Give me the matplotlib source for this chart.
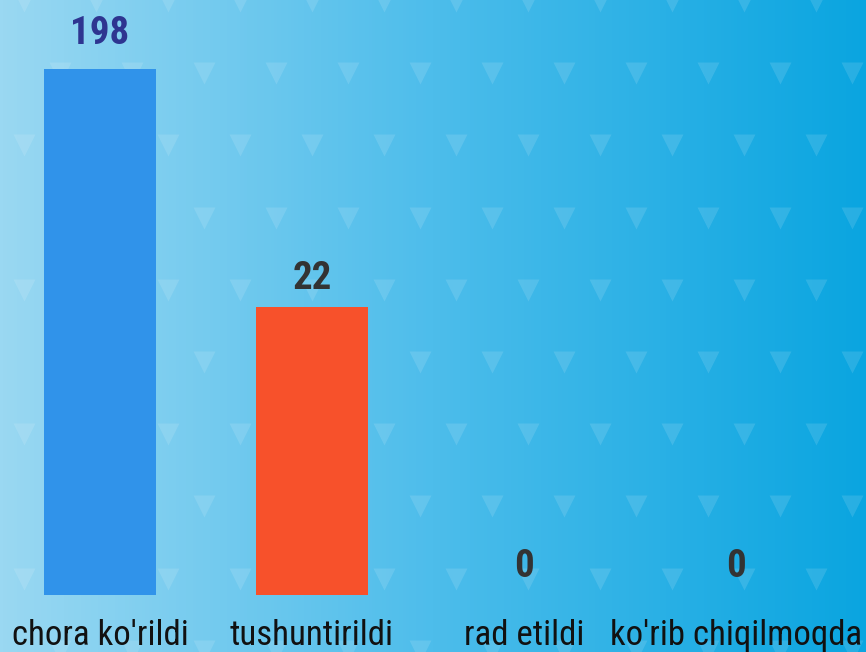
import matplotlib
matplotlib.use("Agg")
import matplotlib.pyplot as plt
import numpy as np
from matplotlib.colors import LinearSegmentedColormap

categories = ["chora ko'rildi", "tushuntirildi", "rad etildi", "ko'rib chiqilmoqda"]
values = [198, 22, 0, 0]
bar_colors = ["#3093EA", "#F7512B", "#3093EA", "#F7512B"]
label_colors = ["#2E3590", "#333333", "#333333", "#333333"]

plt.rcParams['font.family'] = ['Roboto Condensed', 'DejaVu Sans Condensed',
                               'Liberation Sans Narrow', 'Roboto', 'DejaVu Sans']
plt.rcParams['font.stretch'] = 'condensed'

fig = plt.figure(figsize=(8.66, 6.52), dpi=100)

# background: horizontal gradient + faint triangle pattern
bg = fig.add_axes([0, 0, 1, 1], zorder=0)
grad = LinearSegmentedColormap.from_list("bg", ["#9AD8F2", "#4DBDEB", "#0AA5E0"])
bg.imshow(np.linspace(0, 1, 256)[None, :], cmap=grad, aspect='auto',
          extent=[0, 866, 652, 0])
for k in range(10):
    y = 1 + 72.2 * k
    x0 = 24 if k % 2 == 0 else 60
    xs = np.arange(x0, 880, 72)
    bg.scatter(xs, np.full(len(xs), y), marker='v', s=250, color='white',
               alpha=0.12, linewidths=0)
bg.set_xlim(0, 866)
bg.set_ylim(652, 0)
bg.axis('off')

# bars (compressed value scale, like the original)
ax = fig.add_axes([0, 57 / 652, 1, 595 / 652], zorder=1)
ax.patch.set_alpha(0)
ax.set_yscale('function', functions=(lambda v: np.power(np.clip(v, 0, None), 0.274),
                                     lambda v: np.power(np.clip(v, 0, None), 1 / 0.274)))
x = np.arange(len(categories))
ax.bar(x, values, width=0.53, color=bar_colors)
ax.set_xlim(-100 / 212, -100 / 212 + 866 / 212)
ax.set_ylim(0, 310.6)

for xi, v, c in zip(x, values, label_colors):
    off = 12 if v > 100 else 7
    ax.annotate(str(v), (xi, v), xytext=(0, off), textcoords='offset points',
                ha='center', va='bottom', fontsize=28, fontweight='bold', color=c)

ax.set_xticks(x)
ax.set_xticklabels(categories, fontsize=25, color='#111111')
ax.tick_params(axis='x', length=0, pad=17)
ax.set_yticks([])
for s in ax.spines.values():
    s.set_visible(False)

fig.savefig("out.png", dpi=100)
